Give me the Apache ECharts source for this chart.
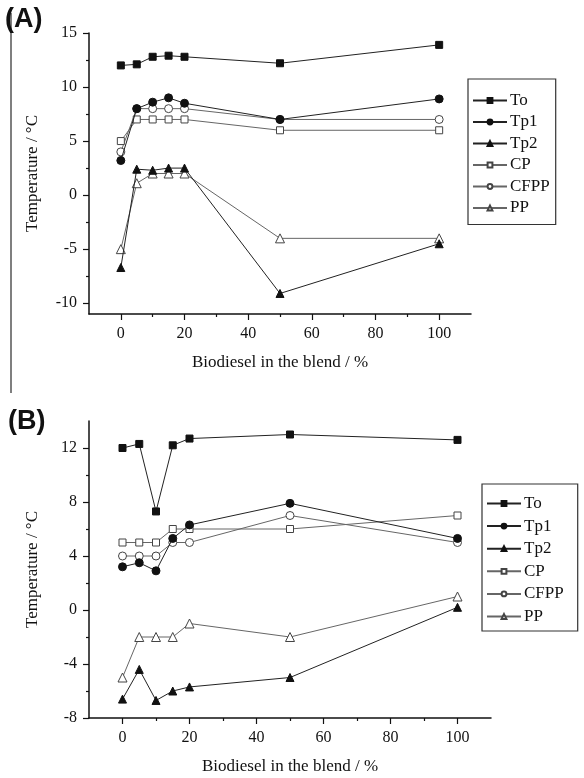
<!DOCTYPE html>
<html>
<head>
<meta charset="utf-8">
<script src="https://cdn.jsdelivr.net/npm/echarts@6/dist/echarts.min.js"></script>
<style>html,body{margin:0;padding:0;background:#fff;}#c{width:584px;height:778px;}</style>
</head>
<body>
<div id="c"></div>
<script>
// ---- data ----
const blend = [0, 5, 10, 15, 20, 50, 100];
const seriesNames = ['To', 'Tp1', 'Tp2', 'CP', 'CFPP', 'PP'];

// Panel A
const A_To   = [12.0, 12.1, 12.8, 12.9, 12.8, 12.2, 13.9];
const A_Tp1  = [3.2, 8.0, 8.6, 9.0, 8.5, 7.0, 8.9];
const A_Tp2  = [-6.7, 2.4, 2.3, 2.5, 2.5, -9.1, -4.5];
const A_CP   = [5.0, 7.0, 7.0, 7.0, 7.0, 6.0, 6.0];
const A_CFPP = [4.0, 8.0, 8.0, 8.0, 8.0, 7.0, 7.0];
const A_PP   = [-5.0, 1.1, 2.0, 2.0, 2.0, -4.0, -4.0];

// Panel B
const B_To   = [12.0, 12.3, 7.3, 12.2, 12.7, 13.0, 12.6];
const B_Tp1  = [3.2, 3.5, 2.9, 5.3, 6.3, 7.9, 5.3];
const B_Tp2  = [-6.6, -4.4, -6.7, -6.0, -5.7, -5.0, 0.2];
const B_CP   = [5.0, 5.0, 5.0, 6.0, 6.0, 6.0, 7.0];
const B_CFPP = [4.0, 4.0, 4.0, 5.0, 5.0, 7.0, 5.0];
const B_PP   = [-5.0, -2.0, -2.0, -2.0, -1.0, -2.0, 1.0];

// tick labels
const xMajor = [0, 20, 40, 60, 80, 100];
const xMinor = [10, 30, 50, 70, 90];
const yMajorA = [-10, -5, 0, 5, 10, 15];
const yMinorA = [-7.5, -2.5, 2.5, 7.5, 12.5];
const yMajorB = [-8, -4, 0, 4, 8, 12];
const yMinorB = [-6, -2, 2, 6, 10];

const xTitle = 'Biodiesel in the blend / %';
const yTitle = 'Temperature / \u00B0C';

// ---- styles ----
const SERIF = 'Liberation Serif';
const styles = {
  To:   {symbol: 'rect', size: 7, fill: '#111', line: '#222'},
  Tp1:  {symbol: 'circle', size: 8, fill: '#111', line: '#222'},
  Tp2:  {symbol: 'triangle', size: 8, fill: '#111', line: '#222'},
  CP:   {symbol: 'rect', size: 7, fill: '#fff', line: '#666'},
  CFPP: {symbol: 'circle', size: 8, fill: '#fff', line: '#666'},
  PP:   {symbol: 'triangle', size: 9, fill: '#fff', line: '#666'}
};

function mkSeries(name, vals, xIdx, yIdx) {
  const s = styles[name];
  return {
    name: name, type: 'line',
    xAxisIndex: xIdx, yAxisIndex: yIdx,
    data: blend.map((x, i) => [x, vals[i]]),
    symbol: s.symbol, symbolSize: s.size, showSymbol: true,
    lineStyle: {color: s.line, width: 1},
    itemStyle: {color: s.fill, borderColor: s.fill === '#fff' ? '#444' : '#111', borderWidth: 1, opacity: 1},
    emphasis: {disabled: true},
    animation: false,
    z: s.fill === '#fff' ? 3 : 4
  };
}

function xAxes(gridIdx) {
  return [
    {type: 'value', gridIndex: gridIdx, position: 'bottom', min: -10, max: 110,
     axisLine: {onZero: false, lineStyle: {color: '#111', width: 1.5}},
     axisTick: {show: true, length: 6, customValues: xMajor, lineStyle: {color: '#111', width: 1.2}},
     axisLabel: {customValues: xMajor, color: '#111', fontFamily: SERIF, fontSize: 16, margin: 12},
     splitLine: {show: false},
     name: xTitle, nameLocation: 'middle', nameGap: 40,
     nameTextStyle: {color: '#111', fontFamily: SERIF, fontSize: 17}},
    {type: 'value', gridIndex: gridIdx, position: 'bottom', offset: 0, min: -10, max: 110,
     axisLine: {show: false, onZero: false},
     axisTick: {show: true, length: 3, customValues: xMinor, lineStyle: {color: '#111', width: 1.2}},
     axisLabel: {show: false}, splitLine: {show: false}}
  ];
}
function yAxes(gridIdx, min, max, major, minor) {
  return [
    {type: 'value', gridIndex: gridIdx, position: 'left', min: min, max: max,
     axisLine: {show: true, onZero: false, lineStyle: {color: '#111', width: 1.5}},
     axisTick: {show: true, length: 6, customValues: major, lineStyle: {color: '#111', width: 1.2}},
     axisLabel: {customValues: major, color: '#111', fontFamily: SERIF, fontSize: 16, margin: 12},
     splitLine: {show: false},
     name: yTitle, nameLocation: 'middle', nameGap: 48,
     nameTextStyle: {color: '#111', fontFamily: SERIF, fontSize: 17}},
    {type: 'value', gridIndex: gridIdx, position: 'left', offset: 0, min: min, max: max,
     axisLine: {show: false, onZero: false},
     axisTick: {show: true, length: 3, customValues: minor, lineStyle: {color: '#111', width: 1.2}},
     axisLabel: {show: false}, splitLine: {show: false}}
  ];
}

function legend(left, top, gap, padding) {
  return {
    left: left, top: top, orient: 'vertical',
    data: seriesNames,
    itemWidth: 34, itemHeight: 6, itemGap: gap,
    padding: padding,
    borderColor: '#333', borderWidth: 1.2,
    textStyle: {fontFamily: SERIF, fontSize: 17, color: '#111', padding: [0, 0, 0, -2]},
    selectedMode: false
  };
}

const seriesA = [A_To, A_Tp1, A_Tp2, A_CP, A_CFPP, A_PP].map((v, i) => mkSeries(seriesNames[i], v, 0, 0));
const seriesB = [B_To, B_Tp1, B_Tp2, B_CP, B_CFPP, B_PP].map((v, i) => mkSeries(seriesNames[i], v, 2, 2));

const chart = echarts.init(document.getElementById('c'), null, {renderer: 'canvas'});
chart.setOption({
  backgroundColor: '#fff',
  animation: false,
  grid: [
    {left: 89, top: 33, width: 382, height: 281},
    {left: 89, top: 421, width: 402, height: 297}
  ],
  xAxis: [...xAxes(0), ...xAxes(1)],
  yAxis: [...yAxes(0, -11, 15, yMajorA, yMinorA), ...yAxes(1, -8, 14, yMajorB, yMinorB)],
  legend: [legend(468, 79, 4.5, [13, 6, 8, 4]), legend(482, 484, 5.6, [11, 14, 6, 4])],
  series: [...seriesA, ...seriesB],
  graphic: [
    {type: 'line', shape: {x1: 11, y1: 13, x2: 11, y2: 393}, style: {stroke: '#555', lineWidth: 1.5}, silent: true},
    {type: 'text', left: 5, top: 6, style: {text: '(A)', fontFamily: 'Liberation Sans', fontWeight: 'bold', fontSize: 27, fill: '#111'}},
    {type: 'text', left: 8, top: 408, style: {text: '(B)', fontFamily: 'Liberation Sans', fontWeight: 'bold', fontSize: 27, fill: '#111'}}
  ]
});
</script>
</body>
</html>
